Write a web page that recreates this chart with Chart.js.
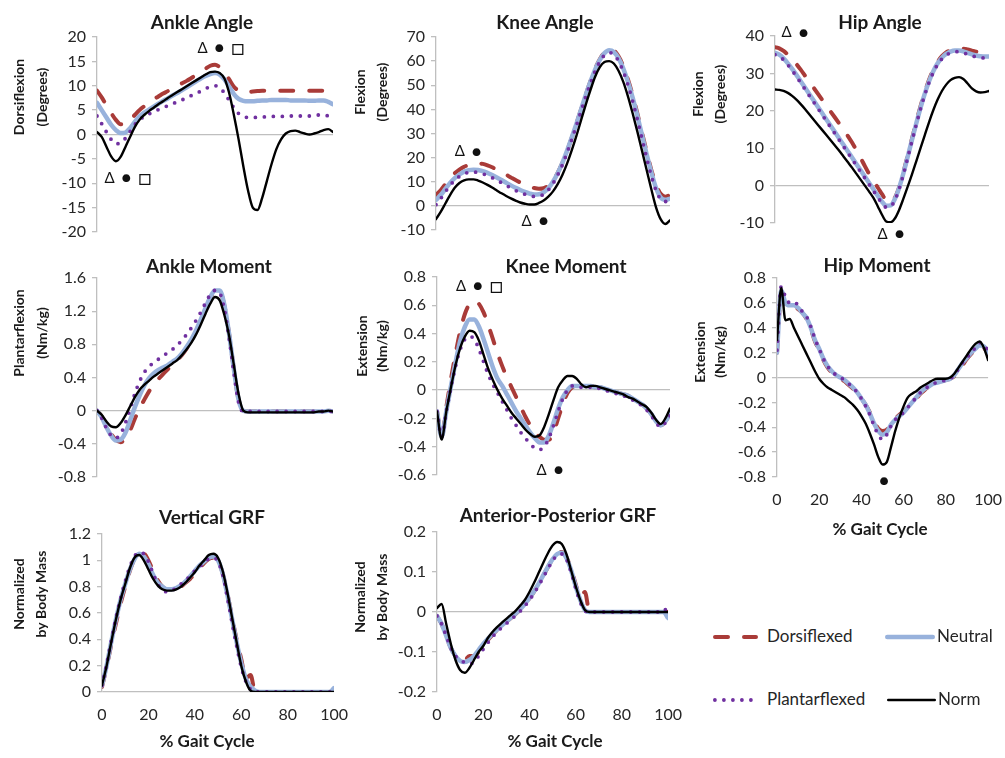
<!DOCTYPE html>
<html>
<head>
<meta charset="utf-8">
<script src="https://cdn.jsdelivr.net/npm/chart.js@4.4.1/dist/chart.umd.min.js"></script>
<style>
  body { margin: 0; background: #fff; }
  #page { position: relative; width: 1005px; height: 758px; overflow: hidden; font-family: Lato, sans-serif; }
  #page canvas { position: absolute; }
  .legText { position: absolute; font: 17px Lato, sans-serif; line-height: 20px; color: #262626; white-space: nowrap; }
</style>
</head>
<body>
<div id="page"></div>
<script>
// % gait cycle, shared x values for every series
const pct = [0,2,4,6,8,10,12,14,16,18,20,22,24,26,28,30,32,34,36,38,40,42,44,46,48,50,52,54,56,58,60,62,64,66,68,70,72,74,76,78,80,82,84,86,88,90,92,94,96,98,100];
const xTicks = [0, 20, 40, 60, 80, 100];
const seriesNames = ['Dorsiflexed', 'Neutral', 'Plantarflexed', 'Norm'];

// Ankle angle (degrees)
const ankleAngleDorsi   = [9,7.6,6,4.4,3,2.1,2.2,3,4,5, 5.8,6.5,7.2,7.8,8.4,8.9,9.5,10,10.5,11, 11.6,12.2,12.8,13.5,14.1,14.3,13.8,12.8,11.3,9.8, 9,8.7,8.7,8.8,8.9,9,9,9,9,9, 9,9,9,9,9,9,9,9,9,9,8.6];
const ankleAngleNeutral = [6.5,5,3.5,2,0.9,0.3,0.4,1.3,2.6,3.7, 4.5,5.1,5.7,6.3,6.9,7.4,8,8.5,9.1,9.7, 10.3,10.9,11.5,12,12.4,12.6,12.3,11.3,9.8,8.3, 7.3,6.9,6.8,6.8,6.9,7,7,7.1,7.1,7.1, 7.1,7,7,7,7,6.9,6.9,7,7,6.7,6.2];
const ankleAnglePlantar = [3.8,2.2,0.5,-1,-1.9,-1.8,-0.8,0.6,2,3, 3.7,4.2,4.7,5.1,5.5,5.9,6.3,6.7,7.1,7.5, 8,8.4,8.9,9.4,9.8,10,9.6,8.5,7,5.5, 4.3,3.7,3.5,3.5,3.5,3.6,3.6,3.7,3.7,3.7, 3.7,3.8,3.8,3.8,3.8,3.8,3.9,4,4,3.8,3.4];
const ankleAngleNorm    = [0.5,-0.5,-2.5,-4.5,-5.5,-4.6,-2.6,-0.5,1.5,3, 4,4.8,5.5,6.2,6.8,7.5,8.1,8.7,9.3,9.9, 10.5,11.1,11.7,12.3,12.8,12.9,12.6,11.5,8.5,4, -1,-6.5,-11.5,-15,-15.5,-13,-9.5,-6,-3,-1, 0.2,0.7,0.8,0.5,0.2,0,0.2,0.5,0.9,1.1,0.5];

// Knee angle (degrees)
const kneeAngleDorsi   = [4.5,6.5,9,11.5,13.5,15,16.2,17,17.5,17.6, 17.4,16.8,16,15,14,12.9,11.8,10.7,9.7,8.8, 8,7.4,7.1,7.3,8.4,10.5,13.7,17.8,22.7,28.2, 34,40,46,51.7,56.8,60.8,63.6,65,64.5,62, 58,52.5,46,38.5,30.5,22.5,15,9,5,3.8,4.5];
const kneeAngleNeutral = [2.5,4.5,7,9.5,11.5,13,14.2,14.8,15,14.9, 14.4,13.7,12.8,11.8,10.7,9.6,8.5,7.5,6.6,5.8, 5.1,4.7,4.8,5.6,7.3,10,13.5,17.8,22.8,28.3, 34,40,46,51.5,56.5,60.5,63.3,64.5,63.8,61.2, 57,51.5,45,37.5,29.5,21.5,14,7.5,3.5,2.5,3];
const kneeAnglePlantar = [0.5,3,5.8,8.5,10.6,12.2,13.3,13.9,14,13.8, 13.3,12.6,11.7,10.7,9.6,8.5,7.4,6.4,5.5,4.8, 4.2,3.9,4,4.8,6.6,9.3,12.8,17,22,27.5, 33.3,39.3,45.3,50.8,55.8,59.8,62.5,63.5,62.8,60, 55.8,50.2,43.5,36,28,20,12.5,6.5,2.8,1.8,2.5];
const kneeAngleNorm    = [-5.5,-2.5,1,4.5,7.5,9.5,10.6,11,11,10.5, 9.7,8.7,7.6,6.4,5.2,4.1,3.1,2.2,1.4,0.9, 0.6,0.6,1.2,2.2,3.8,6,9,12.8,17.5,23, 29,35.5,42,48,53.5,57.5,59.6,60,59,56, 51.5,45.5,38.5,31,23,15,7,-0.5,-5.5,-7.5,-6];

// Hip angle (degrees)
const hipAngleDorsi   = [37,36.7,36,35,33.8,32.5,31,29.4,27.8,26.2, 24.6,23,21.4,19.8,18.2,16.6,15,13.3,11.5,9.5, 7.4,5.2,3.1,1.2,-0.5,-2.3,-4,-4.6,-3.3,-0.5, 3.5,8,12.5,17,21.2,25,28.3,31,33.1,34.6, 35.6,36.2,36.5,36.6,36.6,36.4,36.1,35.8,35.7,35.9,36.3];
const hipAngleNeutral = [35.5,35,34,32.7,31.2,29.6,27.9,26.2,24.5,22.8, 21.1,19.4,17.7,16,14.3,12.6,10.9,9.2,7.5,5.8, 4.1,2.4,0.7,-1,-2.7,-4.3,-5.4,-5.3,-3.6,-0.6, 3.3,7.7,12.2,16.6,20.8,24.6,27.9,30.6,32.7,34.2, 35.2,35.8,36.1,36.1,35.9,35.5,35.1,34.8,34.6,34.5,34.5];
const hipAnglePlantar = [35,34.6,33.6,32.3,30.8,29.2,27.5,25.8,24.1,22.4, 20.7,19,17.3,15.6,13.9,12.2,10.5,8.8,7.1,5.4, 3.7,2,0.3,-1.4,-3.1,-4.7,-5.8,-5.6,-3.9,-0.9, 3,7.4,11.9,16.3,20.5,24.3,27.6,30.3,32.4,33.9, 34.9,35.5,35.8,35.8,35.5,35.1,34.7,34.4,34.2,34.1,34];
const hipAngleNorm    = [25.7,25.6,25.3,24.8,24,23,21.8,20.5,19.1,17.7, 16.3,14.9,13.5,12.1,10.7,9.3,7.8,6.3,4.8,3.2, 1.6,0,-1.6,-3.3,-5.5,-7.8,-9.6,-9.8,-8.8,-6.5, -3.5,-0.3,3,6.5,10,13.5,17,20.2,23,25.3, 27,28.2,28.8,29,28.5,27.3,26,25.2,24.9,25,25.3];

// Ankle moment (Nm/kg)
const ankleMomentDorsi   = [0,-0.07,-0.18,-0.28,-0.35,-0.38,-0.34,-0.24,-0.1,0.02, 0.13,0.23,0.31,0.38,0.44,0.5,0.55,0.61,0.67,0.75, 0.85,0.96,1.09,1.23,1.36,1.44,1.44,1.26,0.92,0.5, 0.13,0,-0.01,-0.01,-0.01,-0.01,-0.01,-0.01,-0.01,-0.01, -0.01,-0.01,-0.01,-0.01,-0.01,-0.01,-0.01,-0.01,-0.01,0,-0.01];
const ankleMomentNeutral = [0,-0.08,-0.2,-0.3,-0.36,-0.35,-0.27,-0.12,0.04,0.18, 0.3,0.39,0.45,0.49,0.52,0.55,0.59,0.63,0.69,0.77, 0.86,0.97,1.1,1.24,1.37,1.45,1.45,1.27,0.92,0.5, 0.13,0,-0.01,-0.01,-0.01,-0.01,-0.01,-0.01,-0.01,-0.01, -0.01,-0.01,-0.01,-0.01,-0.01,-0.01,-0.01,-0.01,-0.01,0,-0.01];
const ankleMomentPlantar = [0,-0.09,-0.21,-0.3,-0.33,-0.28,-0.15,0.02,0.2,0.35, 0.46,0.53,0.58,0.62,0.66,0.7,0.74,0.79,0.85,0.92, 1,1.09,1.19,1.3,1.4,1.45,1.42,1.22,0.87,0.46, 0.1,-0.01,-0.01,-0.01,-0.01,-0.01,-0.01,-0.01,-0.01,-0.01, -0.01,-0.01,-0.01,-0.01,-0.01,-0.01,-0.01,-0.01,-0.01,0,-0.02];
const ankleMomentNorm    = [0,-0.05,-0.13,-0.19,-0.2,-0.15,-0.06,0.05,0.16,0.25, 0.31,0.36,0.41,0.45,0.49,0.53,0.57,0.61,0.67,0.74, 0.82,0.92,1.04,1.17,1.29,1.37,1.33,1.15,0.9,0.55, 0.2,0,-0.02,-0.02,-0.02,-0.02,-0.02,-0.02,-0.02,-0.02, -0.02,-0.02,-0.02,-0.02,-0.02,-0.02,-0.02,-0.01,-0.01,0,-0.01];

// Knee moment (Nm/kg)
const kneeMomentDorsi   = [-0.15,-0.33,-0.12,0.08,0.26,0.42,0.54,0.61,0.63,0.61, 0.55,0.46,0.36,0.26,0.17,0.09,0.02,-0.05,-0.12,-0.19, -0.25,-0.3,-0.33,-0.35,-0.35,-0.3,-0.2,-0.1,-0.02,0.02, 0.03,0.03,0.03,0.03,0.02,0.02,0.01,0,-0.01,-0.02, -0.03,-0.04,-0.06,-0.08,-0.1,-0.13,-0.17,-0.22,-0.25,-0.22,-0.17];
const kneeMomentNeutral = [-0.15,-0.33,-0.15,0.03,0.2,0.35,0.45,0.5,0.5,0.45, 0.36,0.26,0.16,0.08,0.03,-0.03,-0.09,-0.15,-0.2,-0.25, -0.3,-0.34,-0.37,-0.37,-0.32,-0.23,-0.13,-0.05,0,0.03, 0.03,0.03,0.03,0.03,0.02,0.02,0.01,0,-0.01,-0.02, -0.03,-0.04,-0.06,-0.08,-0.1,-0.13,-0.17,-0.22,-0.25,-0.22,-0.17];
const kneeMomentPlantar = [-0.15,-0.33,-0.15,0.02,0.17,0.29,0.36,0.38,0.36,0.29, 0.2,0.11,0.04,-0.02,-0.08,-0.14,-0.2,-0.25,-0.3,-0.34, -0.38,-0.41,-0.42,-0.4,-0.34,-0.25,-0.15,-0.06,0,0.03, 0.03,0.02,0.02,0.02,0.02,0.01,0,-0.01,-0.02,-0.03, -0.04,-0.05,-0.07,-0.09,-0.11,-0.14,-0.18,-0.23,-0.26,-0.23,-0.18];
const kneeMomentNorm    = [-0.15,-0.35,-0.15,0.02,0.18,0.3,0.38,0.42,0.41,0.35, 0.25,0.15,0.07,0,-0.06,-0.11,-0.16,-0.2,-0.24,-0.28, -0.31,-0.33,-0.32,-0.26,-0.17,-0.07,0.02,0.07,0.1,0.1, 0.08,0.04,0.02,0.03,0.03,0.02,0.01,0,-0.01,-0.02, -0.03,-0.05,-0.06,-0.08,-0.1,-0.12,-0.16,-0.21,-0.24,-0.2,-0.13];

// Hip moment (Nm/kg)
const hipMomentDorsi   = [0.2,0.68,0.58,0.56,0.57,0.55,0.52,0.47,0.39,0.29, 0.22,0.14,0.08,0.04,0.01,-0.01,-0.03,-0.06,-0.09,-0.13, -0.17,-0.22,-0.28,-0.35,-0.41,-0.43,-0.42,-0.37,-0.33,-0.3, -0.27,-0.24,-0.21,-0.17,-0.13,-0.1,-0.07,-0.05,-0.04,-0.03, -0.02,-0.01,0.01,0.05,0.1,0.15,0.19,0.22,0.25,0.24,0.19];
const hipMomentNeutral = [0.2,0.7,0.6,0.58,0.58,0.56,0.52,0.48,0.4,0.3, 0.23,0.15,0.09,0.05,0.02,0,-0.02,-0.05,-0.08,-0.12, -0.17,-0.22,-0.29,-0.37,-0.43,-0.46,-0.44,-0.38,-0.34,-0.31, -0.28,-0.24,-0.2,-0.16,-0.12,-0.09,-0.07,-0.05,-0.04,-0.03, -0.02,-0.01,0.02,0.07,0.12,0.16,0.2,0.23,0.26,0.25,0.2];
const hipMomentPlantar = [0.22,0.73,0.65,0.6,0.61,0.58,0.53,0.49,0.41,0.31, 0.23,0.15,0.09,0.05,0.02,0,-0.02,-0.05,-0.08,-0.12, -0.17,-0.23,-0.3,-0.39,-0.46,-0.5,-0.46,-0.39,-0.34,-0.31, -0.28,-0.24,-0.2,-0.16,-0.12,-0.09,-0.07,-0.05,-0.04,-0.03, -0.02,-0.01,0.02,0.07,0.12,0.16,0.2,0.24,0.28,0.26,0.22];
const hipMomentNorm    = [0.3,0.72,0.46,0.47,0.4,0.33,0.26,0.19,0.12,0.05, -0.01,-0.05,-0.08,-0.1,-0.12,-0.14,-0.16,-0.19,-0.22,-0.26, -0.31,-0.37,-0.45,-0.54,-0.64,-0.7,-0.68,-0.56,-0.43,-0.32, -0.23,-0.16,-0.13,-0.11,-0.08,-0.06,-0.04,-0.02,-0.01,-0.01, -0.01,0,0.03,0.08,0.13,0.18,0.23,0.27,0.29,0.24,0.14];

// Vertical GRF (normalized by body mass)
const vgrfDorsi   = [0.04,0.19,0.36,0.52,0.67,0.8,0.92,1.01,1.05,1.05, 1,0.92,0.85,0.8,0.78,0.78,0.79,0.8,0.83,0.86, 0.9,0.94,0.98,1.01,1.02,1,0.9,0.75,0.57,0.4, 0.25,0.1,0.13,0,0,0,0,0,0,0, 0,0,0,0,0,0,0,0,0,0,0.02];
const vgrfNeutral = [0.05,0.2,0.38,0.55,0.7,0.82,0.93,1.01,1.05,1.03, 0.97,0.89,0.83,0.8,0.78,0.78,0.79,0.81,0.84,0.88, 0.92,0.96,0.99,1.02,1.03,1,0.9,0.74,0.56,0.38, 0.22,0.1,0.04,0.01,0,0,0,0,0,0, 0,0,0,0,0,0,0,0,0,0,0.03];
const vgrfPlantar = [0.05,0.21,0.39,0.56,0.71,0.84,0.95,1.03,1.06,1.05, 0.99,0.9,0.82,0.78,0.76,0.77,0.79,0.82,0.85,0.88, 0.92,0.95,0.99,1.01,1.02,0.99,0.89,0.72,0.53,0.35, 0.19,0.08,0.02,0,0,0,0,0,0,0, 0,0,0,0,0,0,0,0,0,0,0.05];
const vgrfNorm    = [0.05,0.2,0.38,0.55,0.7,0.82,0.94,1.02,1.04,1, 0.93,0.86,0.81,0.78,0.77,0.77,0.78,0.8,0.83,0.87, 0.91,0.96,1,1.04,1.05,1.02,0.92,0.76,0.57,0.38, 0.2,0.08,0.01,0,0,0,0,0,0,0, 0,0,0,0,0,0,0,0,0,0,0];

// Anterior-posterior GRF (normalized by body mass)
const apgrfDorsi   = [-0.01,-0.03,-0.06,-0.09,-0.11,-0.12,-0.12,-0.11,-0.11,-0.1, -0.085,-0.07,-0.057,-0.045,-0.035,-0.025,-0.015,-0.005,0.006,0.019, 0.034,0.051,0.07,0.091,0.112,0.131,0.145,0.15,0.137,0.108, 0.07,0.035,0.05,0,0,0,0,0,0,0, 0,0,0,0,0,0,0,0,0,0,0];
const apgrfNeutral = [-0.01,-0.03,-0.06,-0.09,-0.11,-0.122,-0.125,-0.12,-0.11,-0.095, -0.08,-0.067,-0.055,-0.044,-0.034,-0.024,-0.014,-0.004,0.007,0.02, 0.035,0.052,0.071,0.092,0.113,0.132,0.145,0.148,0.135,0.105, 0.065,0.03,0.005,0,0,0,0,0,0,0, 0,0,0,0,0,0,0,0,0,0,-0.015];
const apgrfPlantar = [-0.01,-0.03,-0.06,-0.09,-0.11,-0.12,-0.126,-0.13,-0.125,-0.11, -0.093,-0.077,-0.062,-0.05,-0.039,-0.029,-0.019,-0.009,0.002,0.015, 0.03,0.047,0.066,0.087,0.108,0.128,0.142,0.145,0.132,0.1, 0.06,0.025,0.003,0,0,0,0,0,0,0, 0,0,0,0,0,0,0,0,0,0.008,0];
const apgrfNorm    = [0.01,0.02,-0.03,-0.08,-0.12,-0.145,-0.152,-0.14,-0.12,-0.1, -0.085,-0.065,-0.05,-0.038,-0.027,-0.017,-0.007,0.003,0.016,0.03, 0.05,0.073,0.098,0.123,0.147,0.166,0.175,0.17,0.145,0.105, 0.065,0.03,0.005,0,0,0,0,0,0,0, 0,0,0,0,0,0,0,0,0,0,0];

// significance markers (placed in data units)
const ankleAngleMarks  = [{x: 52.5, y: 17.7, text: 'Δ ● □'}, {x: 13.1, y: -8.9, text: 'Δ ● □'}];
const kneeAngleMarks   = [{x: 13.7, y: 22.6, text: 'Δ ●'}, {x: 42.3, y: -6.3, text: 'Δ ●'}];
const hipAngleMarks    = [{x: 9.3, y: 40.9, text: 'Δ ●'}, {x: 54.2, y: -12.9, text: 'Δ ●'}];
const kneeMomentMarks  = [{x: 18.2, y: 0.734, text: 'Δ ● □'}, {x: 48.5, y: -0.565, text: 'Δ ●'}];
const hipMomentMarks   = [{x: 50.7, y: -0.828, text: '●'}];

// line styles
const seriesStyle = {
  Dorsiflexed:   { color: '#A93B38', width: 4,   dash: [13, 16], cap: 'round', order: 4 },
  Neutral:       { color: '#98B2DC', width: 4.5, dash: [],       cap: 'round', order: 3 },
  Plantarflexed: { color: '#7030A0', width: 3.8, dash: [0, 9],   cap: 'round', order: 2 },
  Norm:          { color: '#000000', width: 2.4, dash: [],       cap: 'round', order: 1 }
};
const markFonts = {
  'Δ': '15px Lato, "DejaVu Sans", sans-serif',
  '●': '16px Lato, "DejaVu Sans", sans-serif',
  '□': '22px Lato, "DejaVu Sans", sans-serif'
};

// panel layout: plot = [left, top, right, bottom] in page pixels
const panels = [
  { title: 'Ankle Angle', yTitle: ['Dorsiflexion', '(Degrees)'], series: [ankleAngleDorsi, ankleAngleNeutral, ankleAnglePlantar, ankleAngleNorm],
    yMin: -20, yMax: 20, yStep: 5, plot: [97, 37, 333, 232], showX: false, titlePos: [202, 23], yTitleX: [19, 42], yTitleY: 97, marks: ankleAngleMarks },
  { title: 'Knee Angle', yTitle: ['Flexion', '(Degrees)'], series: [kneeAngleDorsi, kneeAngleNeutral, kneeAnglePlantar, kneeAngleNorm],
    yMin: -10, yMax: 70, yStep: 10, plot: [436, 37, 670, 230], showX: false, titlePos: [545, 23], yTitleX: [360, 382], yTitleY: 92, marks: kneeAngleMarks },
  { title: 'Hip Angle', yTitle: ['Flexion', '(Degrees)'], series: [hipAngleDorsi, hipAngleNeutral, hipAnglePlantar, hipAngleNorm],
    yMin: -10, yMax: 40, yStep: 10, plot: [775, 36, 989, 223], showX: false, titlePos: [880, 23], yTitleX: [698, 720], yTitleY: 94, marks: hipAngleMarks },
  { title: 'Ankle Moment', yTitle: ['Plantarflexion', '(Nm/kg)'], series: [ankleMomentDorsi, ankleMomentNeutral, ankleMomentPlantar, ankleMomentNorm],
    yMin: -0.8, yMax: 1.6, yStep: 0.4, plot: [97, 278, 333, 477], showX: false, titlePos: [209, 267], yTitleX: [19, 42], yTitleY: 333, marks: [] },
  { title: 'Knee Moment', yTitle: ['Extension', '(Nm/kg)'], series: [kneeMomentDorsi, kneeMomentNeutral, kneeMomentPlantar, kneeMomentNorm],
    yMin: -0.6, yMax: 0.8, yStep: 0.2, plot: [437, 277, 670, 475], showX: false, titlePos: [566, 267], yTitleX: [362, 382], yTitleY: 346, marks: kneeMomentMarks },
  { title: 'Hip Moment', yTitle: ['Extension', '(Nm/kg)'], series: [hipMomentDorsi, hipMomentNeutral, hipMomentPlantar, hipMomentNorm],
    yMin: -0.8, yMax: 0.8, yStep: 0.2, plot: [777, 278, 990, 477], showX: true, titlePos: [877, 266], yTitleX: [700, 720], yTitleY: 352, marks: hipMomentMarks, xTitlePos: [880, 530] },
  { title: 'Vertical GRF', yTitle: ['Normalized', 'by Body Mass'], series: [vgrfDorsi, vgrfNeutral, vgrfPlantar, vgrfNorm],
    yMin: 0, yMax: 1.2, yStep: 0.2, plot: [102, 534, 336, 692], showX: true, titlePos: [212, 518], yTitleX: [19, 41], yTitleY: 594, marks: [], xTitlePos: [207, 742] },
  { title: 'Anterior-Posterior GRF', yTitle: ['Normalized', 'by Body Mass'], series: [apgrfDorsi, apgrfNeutral, apgrfPlantar, apgrfNorm],
    yMin: -0.2, yMax: 0.2, yStep: 0.1, plot: [437, 532, 670, 692], showX: true, titlePos: [558, 516], yTitleX: [360, 382], yTitleY: 597, marks: [], xTitlePos: [555, 742] }
];

// legend slots: line start x, y, line length, gap to text
const legendSlots = [
  { x: 713, y: 637, len: 45, gap: 9 },
  { x: 885, y: 637, len: 50, gap: 2 },
  { x: 713, y: 700, len: 45, gap: 9 },
  { x: 887, y: 700, len: 49, gap: 2 }
];

const page = document.getElementById('page');
const Y_AXIS_W = 46, X_AXIS_H = 30;
const PAD_L = 100, PAD_T = 45, PAD_R = 25, PAD_B = 75;

function buildDatasets(values) {
  return seriesNames.map((name, i) => {
    const s = seriesStyle[name];
    return {
      label: name,
      data: values[i].map((v, k) => ({ x: pct[k], y: v })),
      borderColor: s.color,
      borderWidth: s.width,
      borderDash: s.dash,
      borderCapStyle: s.cap,
      borderJoinStyle: 'round',
      pointRadius: 0,
      fill: false,
      cubicInterpolationMode: 'monotone',
      order: s.order
    };
  });
}

// draws a group of marker glyphs centred on (cx, cy)
function drawMark(ctx, text, cx, cy) {
  const glyphs = text.split(' ');
  const gap = 7;
  const widths = glyphs.map(g => { ctx.font = markFonts[g]; return ctx.measureText(g).width; });
  const total = widths.reduce((a, b) => a + b, 0) + gap * (glyphs.length - 1);
  let x = cx - total / 2;
  ctx.textAlign = 'left';
  glyphs.forEach((g, i) => {
    ctx.font = markFonts[g];
    ctx.fillText(g, x, cy);
    x += widths[i] + gap;
  });
}

function textPlugin(p, box) {
  return {
    id: 'panelText',
    afterDraw(chart) {
      const ctx = chart.ctx;
      ctx.save();
      ctx.fillStyle = '#1a1a1a';
      ctx.textAlign = 'center';
      ctx.textBaseline = 'middle';
      ctx.font = 'bold 19px Lato, sans-serif';
      ctx.fillText(p.title, p.titlePos[0] - box.left, p.titlePos[1] - box.top);
      ctx.font = 'bold 14px Lato, sans-serif';
      p.yTitle.forEach((t, i) => {
        ctx.save();
        ctx.translate(p.yTitleX[i] - box.left, p.yTitleY - box.top);
        ctx.rotate(-Math.PI / 2);
        ctx.fillText(t, 0, 0);
        ctx.restore();
      });
      if (p.xTitlePos) {
        ctx.font = 'bold 17px Lato, sans-serif';
        ctx.fillText('% Gait Cycle', p.xTitlePos[0] - box.left, p.xTitlePos[1] - box.top);
      }
      const xs = chart.scales.x, ys = chart.scales.y;
      ctx.fillStyle = '#111';
      p.marks.forEach(m => drawMark(ctx, m.text, xs.getPixelForValue(m.x), ys.getPixelForValue(m.y)));
      ctx.restore();
    }
  };
}

panels.forEach(p => {
  const [pl, pt, pr, pb] = p.plot;
  const box = { left: pl - PAD_L, top: pt - PAD_T, width: (pr - pl) + PAD_L + PAD_R, height: (pb - pt) + PAD_T + PAD_B };
  const canvas = document.createElement('canvas');
  canvas.width = box.width; canvas.height = box.height;
  canvas.style.left = box.left + 'px'; canvas.style.top = box.top + 'px';
  page.appendChild(canvas);

  const xH = p.showX ? X_AXIS_H : 0;
  new Chart(canvas.getContext('2d'), {
    type: 'line',
    data: { datasets: buildDatasets(p.series) },
    options: {
      responsive: false,
      animation: false,
      devicePixelRatio: 1,
      events: [],
      layout: { padding: { left: PAD_L - Y_AXIS_W, top: PAD_T, right: PAD_R, bottom: PAD_B - xH } },
      plugins: { legend: { display: false }, tooltip: { enabled: false }, title: { display: false } },
      scales: {
        x: {
          type: 'linear', min: 0, max: 100,
          afterBuildTicks: s => { s.ticks = xTicks.map(v => ({ value: v })); },
          afterFit: s => { s.height = xH; },
          grid: { display: false, drawTicks: false },
          border: { display: false },
          ticks: { display: p.showX, padding: 13, color: '#262626', font: { family: 'Lato', size: 16 } }
        },
        y: {
          min: p.yMin, max: p.yMax,
          ticks: { stepSize: p.yStep, padding: 6, color: '#262626', font: { family: 'Lato', size: 16 },
                   callback: v => String(parseFloat(Number(v).toFixed(2))) },
          afterFit: s => { s.width = Y_AXIS_W; },
          grid: { color: c => (c.tick && Math.abs(c.tick.value) < 1e-9) ? '#BFBFBF' : 'rgba(0,0,0,0)',
                  tickColor: '#BFBFBF', tickLength: 5, lineWidth: 1.3 },
          border: { display: true, color: '#BFBFBF', width: 1.3 }
        }
      }
    },
    plugins: [textPlugin(p, box)]
  });
});

// legend
seriesNames.forEach((name, i) => {
  const s = seriesStyle[name], slot = legendSlots[i];
  const c = document.createElement('canvas');
  c.width = slot.len + 8; c.height = 14;
  c.style.left = (slot.x - 4) + 'px'; c.style.top = (slot.y - 7) + 'px';
  const g = c.getContext('2d');
  g.strokeStyle = s.color; g.lineWidth = s.width; g.lineCap = s.cap; g.setLineDash(s.dash);
  g.beginPath(); g.moveTo(4 + s.width / 2, 7); g.lineTo(slot.len + 4 - s.width / 2, 7); g.stroke();
  page.appendChild(c);
  const t = document.createElement('div');
  t.className = 'legText';
  t.textContent = name;
  t.style.left = (slot.x + slot.len + slot.gap) + 'px';
  t.style.top = (slot.y - 11) + 'px';
  page.appendChild(t);
});
</script>
</body>
</html>
